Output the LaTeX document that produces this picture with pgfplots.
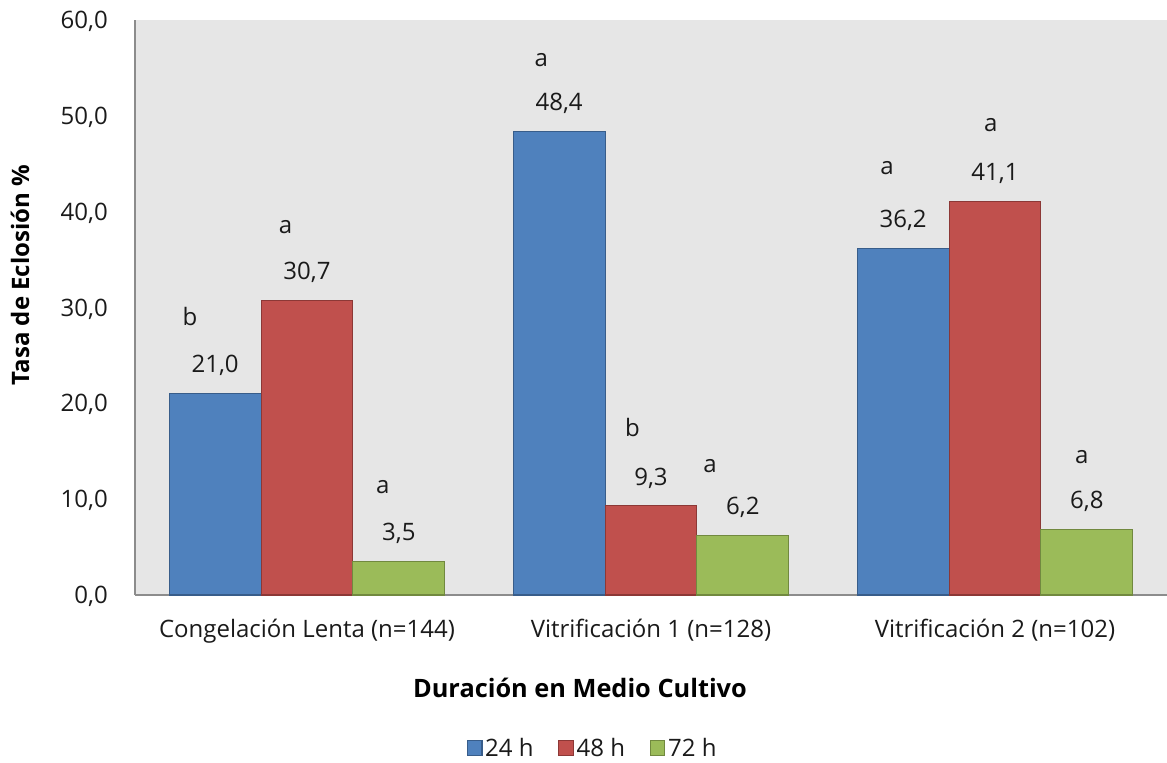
\documentclass[border=0pt]{standalone}
\usepackage{fontspec}
\setmainfont{Open Sans}
\usepackage{pgfplots}
\pgfplotsset{compat=1.18}
\usetikzlibrary{calc}
\definecolor{cblue}{HTML}{4F81BD}
\definecolor{cbluee}{HTML}{385D8A}
\definecolor{cred}{HTML}{C0504D}
\definecolor{credd}{HTML}{8C3836}
\definecolor{cgreen}{HTML}{9BBB59}
\definecolor{cgreend}{HTML}{71893F}
\definecolor{bg}{HTML}{E6E6E6}
\definecolor{axg}{HTML}{8C8C8C}
\definecolor{txt}{HTML}{1A1A1A}
\newcommand{\lf}{\fontsize{18}{21}\selectfont}
\begin{document}
\begin{tikzpicture}
\begin{axis}[
  name=ax, at={(0,0)}, anchor=south west,
  scale only axis, width=774pt, height=431.25pt,
  xmin=-0.5, xmax=2.5, ymin=0, ymax=60,
  ybar, bar width=0.267,
  clip=false,
  axis x line*=bottom, axis y line*=left,
  axis line style={axg, line width=1pt},
  axis background/.style={fill=bg},
  xtick={0,1,2},
  xticklabels={Congelación Lenta (n=144), Vitrificación 1 (n=128), Vitrificación 2 (n=102)},
  ytick={0,10,20,30,40,50,60},
  major tick length=0pt,
  tick style={draw=none},
  /pgf/number format/.cd, fixed, fixed zerofill, precision=1, use comma, assume math mode=true,
  /pgfplots/.cd,
  xticklabel style={font=\lf, text=txt, anchor=base, inner sep=0pt, yshift=-32pt},
  yticklabel style={font=\lf, text=txt, anchor=base east, inner sep=0pt, xshift=-20.25pt, yshift=-6.4pt},
  nodes near coords,
  every node near coord/.append style={font=\lf, text=txt, anchor=center, yshift=21pt},
  xlabel={Duración en Medio Cultivo},
  xlabel style={font=\fontsize{19}{22}\selectfont\bfseries, text=black, at={(axis description cs:0.4312,-0.1617)}, anchor=center},
  ylabel={Tasa de Eclosión \%},
  ylabel style={font=\lf\bfseries, text=black, at={(axis description cs:-0.1114,0.5565)}, anchor=center},
  legend style={at={(axis description cs:0.4438,-0.2661)}, anchor=center, draw=none, fill=none,
    legend columns=-1, font=\lf, text=txt,
    /tikz/every even column/.append style={column sep=16.5pt}},
  legend image code/.code={\draw[#1, line width=0.8pt] (0pt,-5.5pt) rectangle (11pt,5.5pt);},
]
\addplot[fill=cblue, draw=cbluee, line width=0.8pt, bar shift=-0.267] coordinates {(0,21.0) (1,48.4) (2,36.2)};
\addplot[fill=cred, draw=credd, line width=0.8pt, bar shift=0] coordinates {(0,30.7) (1,9.3) (2,41.1)};
\addplot[fill=cgreen, draw=cgreend, line width=0.8pt, bar shift=0.267] coordinates {(0,3.5) (1,6.2) (2,6.8)};
\legend{24 h, 48 h, 72 h}
\node[font=\lf, text=txt] at (axis cs:-0.340,29.1) {b};
\node[font=\lf, text=txt] at (axis cs:-0.062,38.4) {a};
\node[font=\lf, text=txt] at (axis cs:0.220,11.27) {a};
\node[font=\lf, text=txt] at (axis cs:0.681,55.8) {a};
\node[font=\lf, text=txt] at (axis cs:0.946,17.5) {b};
\node[font=\lf, text=txt] at (axis cs:1.172,13.46) {a};
\node[font=\lf, text=txt] at (axis cs:1.686,44.56) {a};
\node[font=\lf, text=txt] at (axis cs:1.988,49.05) {a};
\node[font=\lf, text=txt] at (axis cs:2.252,14.4) {a};
\end{axis}
\pgfresetboundingbox
\path[use as bounding box] ($(ax.south west)+(-101.25pt,-126pt)$) rectangle ($(ax.north east)+(0pt,15pt)$);
\end{tikzpicture}
\end{document}
